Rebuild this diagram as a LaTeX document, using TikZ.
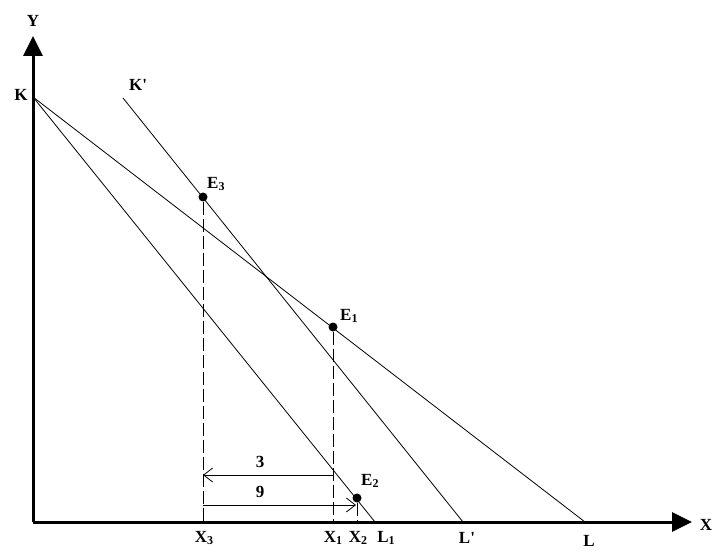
\documentclass[tikz,border=0pt]{standalone}
\usepackage{fontspec}
\setmainfont{Liberation Serif}
\usetikzlibrary{arrows.meta}
\definecolor{plotink}{HTML}{000000}

\newcommand{\sublab}[2]{#1\raisebox{-0.15ex}{\fontsize{12}{12}\selectfont #2}}

\begin{document}
\begin{tikzpicture}[
  x=1pt,
  y=-1pt,
  every node/.style={font=\fontsize{17}{20}\selectfont\bfseries, plotink, inner sep=1pt},
  axis/.style={plotink, line width=3pt, -{Triangle[length=20pt,width=19pt]}},
  budget/.style={plotink, line width=0.8pt},
  guide/.style={plotink, line width=0.8pt, dash pattern=on 13pt off 4pt},
  move/.style={plotink, line width=0.8pt, -{Straight Barb[length=9pt,width=14pt]}},
  dot/.style={circle, fill=plotink, minimum size=9pt, inner sep=0pt}
]
  \useasboundingbox (0,0) rectangle (725,559);

  % ---- the axes ---------------------------------------------------------
  \coordinate (O) at (33,522);
  \coordinate (Ytip) at (33,36);
  \coordinate (Xtip) at (692,522);
  \draw[axis] (O) -- (Ytip);
  \draw[axis] (O) -- (Xtip);
  \node at (33,21) {Y};
  \node at (706,525) {X};

  % ---- intercepts of the three lines -----------------------------------
  \coordinate (K) at (33,97);
  \coordinate (Kp) at (123,98);
  \coordinate (L) at (585,522);
  \coordinate (Lp) at (463,522);
  \coordinate (Lone) at (375,522);
  \node at (21,95) {K};
  \node at (138,85) {K\textquotesingle};
  \node at (589,541) {L};
  \node at (467,538) {L\textquotesingle};
  \node at (386,538) {\sublab{L}{1}};

  \draw[budget] (K) -- (L);
  \draw[budget] (K) -- (Lone);
  \draw[budget] (Kp) -- (Lp);

  % ---- the equilibria -------------------------------------------------
  \node[dot] (E3) at (203,197) {};
  \node[dot] (E1) at (333,327) {};
  \node[dot] (E2) at (357,498) {};
  \node[anchor=west] at (206,184) {\sublab{E}{3}};
  \node[anchor=west] at (339,316) {\sublab{E}{1}};
  \node[anchor=west] at (360,481) {\sublab{E}{2}};

  % ---- drop lines to the X axis ----------------------------------------
  \coordinate (X3) at (203,522);
  \coordinate (X1) at (333,522);
  \coordinate (X2) at (357,522);
  \draw[guide] (E3) -- (X3);
  \draw[guide] (E1) -- (X1);
  \draw[guide] (E2) -- (X2);
  \node at (204,538) {\sublab{X}{3}};
  \node at (333,538) {\sublab{X}{1}};
  \node at (358,538) {\sublab{X}{2}};

  % ---- the two shifts ---------------------------------------------------
  \coordinate (a3s) at (333,475);
  \coordinate (a3e) at (203,475);
  \coordinate (a9s) at (203,505);
  \coordinate (a9e) at (356,505);
  \draw[move] (a3s) -- (a3e);
  \draw[move] (a9s) -- (a9e);
  \node at (260,462) {3};
  \node at (260,492) {9};
\end{tikzpicture}
\end{document}
